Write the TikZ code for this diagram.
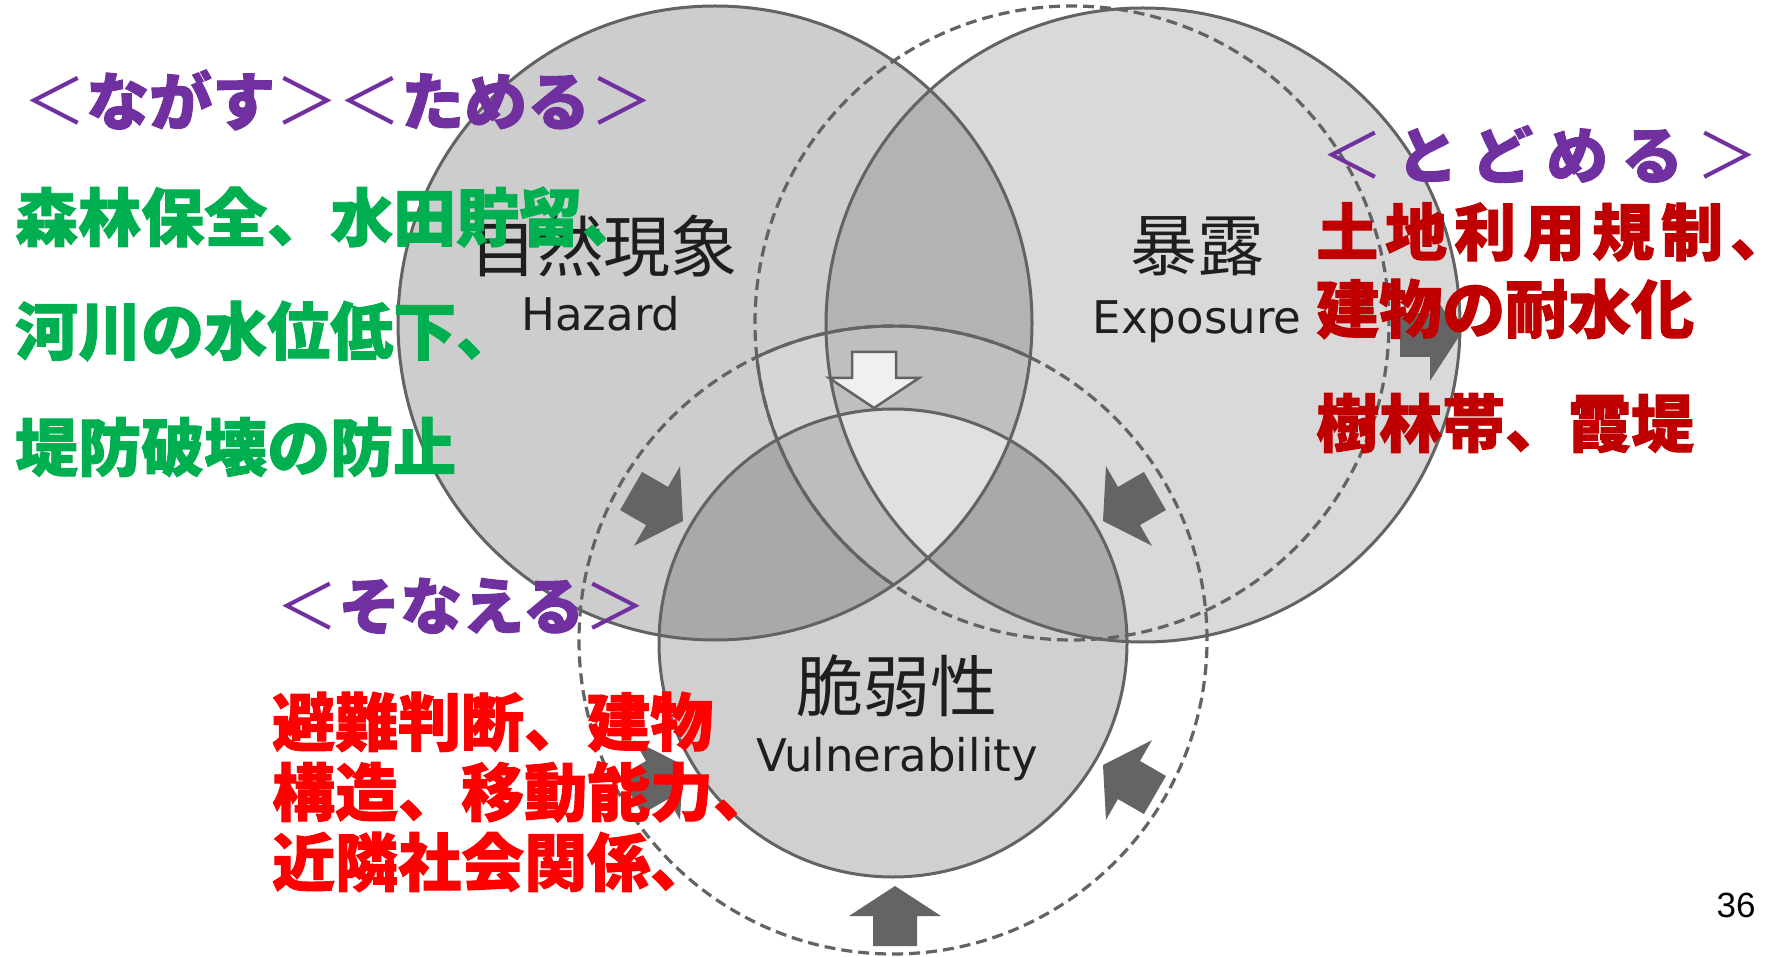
\documentclass[tikz,border=0pt]{standalone}
\usepackage{fontspec}
\newfontfamily\jp{Noto Sans CJK JP}[BoldFeatures={FakeBold=1.5}]
\newfontfamily\lat{DejaVu Sans}
\newfontfamily\arialf{Liberation Sans}
\definecolor{pur}{HTML}{7030A0}
\definecolor{grn}{HTML}{00B050}
\definecolor{dred}{HTML}{C00000}
\definecolor{bred}{HTML}{FF0000}
\definecolor{ln}{HTML}{636363}
\definecolor{arr}{HTML}{646464}
\definecolor{cH}{HTML}{CDCDCD}
\definecolor{cE}{HTML}{D9D9D9}
\definecolor{cV}{HTML}{D0D0D0}
\definecolor{cHE}{HTML}{B3B3B3}
\definecolor{cHEVd}{HTML}{BFBFBF}
\definecolor{cHV}{HTML}{A9A9A9}
\definecolor{cHEdV}{HTML}{BDBDBD}
\definecolor{cCore}{HTML}{E0E0E0}
\definecolor{cHEdVd}{HTML}{D6D6D6}
\definecolor{lab}{HTML}{1E1E1E}
\newcommand\fs[1]{\fontsize{#1}{#1}\selectfont}
\newcommand\blkarrow[3]{\fill[arr,shift={(#1,#2)},rotate=#3] (0,0) -- (-30,46) -- (-30,22) -- (-60,22) -- (-60,-22) -- (-30,-22) -- (-30,-46) -- cycle;}
\tikzset{
  solidln/.style={draw=ln,line width=3pt},
  dashln/.style={draw=ln,line width=3.2pt,dash pattern=on 11pt off 6pt},
  txt/.style={inner sep=0pt,anchor=west},
  lbl/.style={inner sep=0pt,text=lab},
}
\begin{document}
\begin{tikzpicture}[x=1pt,y=-1pt]
\useasboundingbox (0,0) rectangle (1792,957);
\fill[white] (0,0) rectangle (1792,957);
\coordinate (Hc) at (715,323);
\coordinate (Ec) at (1143,325);
\coordinate (Edc) at (1072,323);
\coordinate (Vc) at (893,643);
\coordinate (Vdc) at (893,640);
\def\RH{317pt}\def\RV{234pt}\def\RVd{314pt}
% base fills
\fill[cH] (Hc) circle[radius=\RH];
\fill[cE] (Ec) circle[radius=\RH];
\fill[cV] (Vc) circle[radius=\RV];
\begin{scope}
 \clip (Hc) circle[radius=\RH]; \clip (Edc) circle[radius=\RH]; \clip (Vdc) circle[radius=\RVd];
 \fill[cHEdVd] (0,0) rectangle (1792,957);
\end{scope}
\begin{scope}
 \clip (Hc) circle[radius=\RH]; \clip (Ec) circle[radius=\RH];
 \fill[cHE] (0,0) rectangle (1792,957);
 \clip (Vdc) circle[radius=\RVd];
 \fill[cHEVd] (0,0) rectangle (1792,957);
\end{scope}
\begin{scope}
 \clip (Vc) circle[radius=\RV]; \clip (Hc) circle[radius=\RH];
 \fill[cHV] (0,0) rectangle (1792,957);
\end{scope}
\begin{scope}
 \clip (Vc) circle[radius=\RV]; \clip (Ec) circle[radius=\RH];
 \fill[cHV] (0,0) rectangle (1792,957);
\end{scope}
\begin{scope}
 \clip (Vc) circle[radius=\RV]; \clip (Hc) circle[radius=\RH]; \clip (Edc) circle[radius=\RH];
 \fill[cHEdV] (0,0) rectangle (1792,957);
\end{scope}
\begin{scope}
 \clip (Vc) circle[radius=\RV]; \clip (Hc) circle[radius=\RH]; \clip (Ec) circle[radius=\RH];
 \fill[cCore] (0,0) rectangle (1792,957);
\end{scope}
% outlines
\draw[dashln] (Edc) circle[radius=\RH];
\draw[dashln] (Vdc) circle[radius=\RVd];
\begin{scope}
 \clip (Hc) circle[radius=\RH]; \clip (Vdc) circle[radius=\RVd];
 \draw[solidln] (Edc) circle[radius=\RH];
\end{scope}
\begin{scope}
 \clip (Hc) circle[radius=\RH]; \clip (Edc) circle[radius=\RH];
 \draw[solidln] (Vdc) circle[radius=\RVd];
\end{scope}
\draw[solidln] (Hc) circle[radius=\RH];
\draw[solidln] (Ec) circle[radius=\RH];
\draw[solidln] (Vc) circle[radius=\RV];
% arrows
\blkarrow{683}{521}{-30}
\blkarrow{1103}{521}{-150}
\blkarrow{683}{765}{30}
\blkarrow{1103}{765}{150}
\blkarrow{895}{886}{90}
\blkarrow{1460}{335}{0}
\draw[fill=white!94!black,draw=ln,line width=2.5pt,shift={(874,408)},rotate=-90]
  (0,0) -- (-30,45) -- (-30,22) -- (-56,22) -- (-56,-22) -- (-30,-22) -- (-30,-45) -- cycle;
% diagram labels
\node[lbl,font=\jp\fs{67}] (lh) at (603,246) {自然現象};
\node[lbl,font=\lat\fs{45},anchor=base] (lhe) at (601,331) {Hazard};
\node[lbl,font=\jp\fs{67}] (le) at (1197,246) {暴露};
\node[lbl,font=\lat\fs{45},anchor=base] (lee) at (1197,334) {Exposure};
\node[lbl,font=\jp\fs{67}] (lv) at (897,686) {脆弱性};
\node[lbl,font=\lat\fs{45},anchor=base] (lve) at (897,771) {Vulnerability};
% measure texts
\node[txt,font=\jp\fs{63},text=pur] (p1) at (23,100) {＜{\bfseries ながす}＞＜{\bfseries ためる}＞};
\node[txt,font=\jp\bfseries\fs{63},text=grn] (g1) at (15,217) {森林保全、水田貯留、};
\node[txt,font=\jp\bfseries\fs{63},text=grn] (g2) at (15,331) {河川の水位低下、};
\node[txt,font=\jp\bfseries\fs{63},text=grn] (g3) at (15,447) {堤防破壊の防止};
\node[txt,font=\jp\fs{62},text=pur] (p2) at (1321,154) {＜\kern13pt{\bfseries と\kern13pt ど\kern13pt め\kern13pt る}\kern13pt＞};
\node[txt,font=\jp\bfseries\fs{62},text=dred] (r1) at (1316,232) {土\kern7pt地\kern7pt利\kern7pt用\kern7pt規\kern7pt制\kern7pt、};
\node[txt,font=\jp\bfseries\fs{63},text=dred] (r2) at (1316,309) {建物の耐水化};
\node[txt,font=\jp\bfseries\fs{63},text=dred] (r3) at (1316,423) {樹林帯、霞堤};
\node[txt,font=\jp\fs{62},text=pur] (p3) at (276,606) {＜{\bfseries そなえる}＞};
\node[txt,font=\jp\bfseries\fs{63},text=bred] (b1) at (272,722) {避難判断、建物};
\node[txt,font=\jp\bfseries\fs{63},text=bred] (b2) at (272,792) {構造、移動能力、};
\node[txt,font=\jp\bfseries\fs{63},text=bred] (b3) at (272,862) {近隣社会関係、};
\node[inner sep=0pt,font=\arialf\fs{35}] (pg) at (1736,905) {36};
\end{tikzpicture}
\end{document}
